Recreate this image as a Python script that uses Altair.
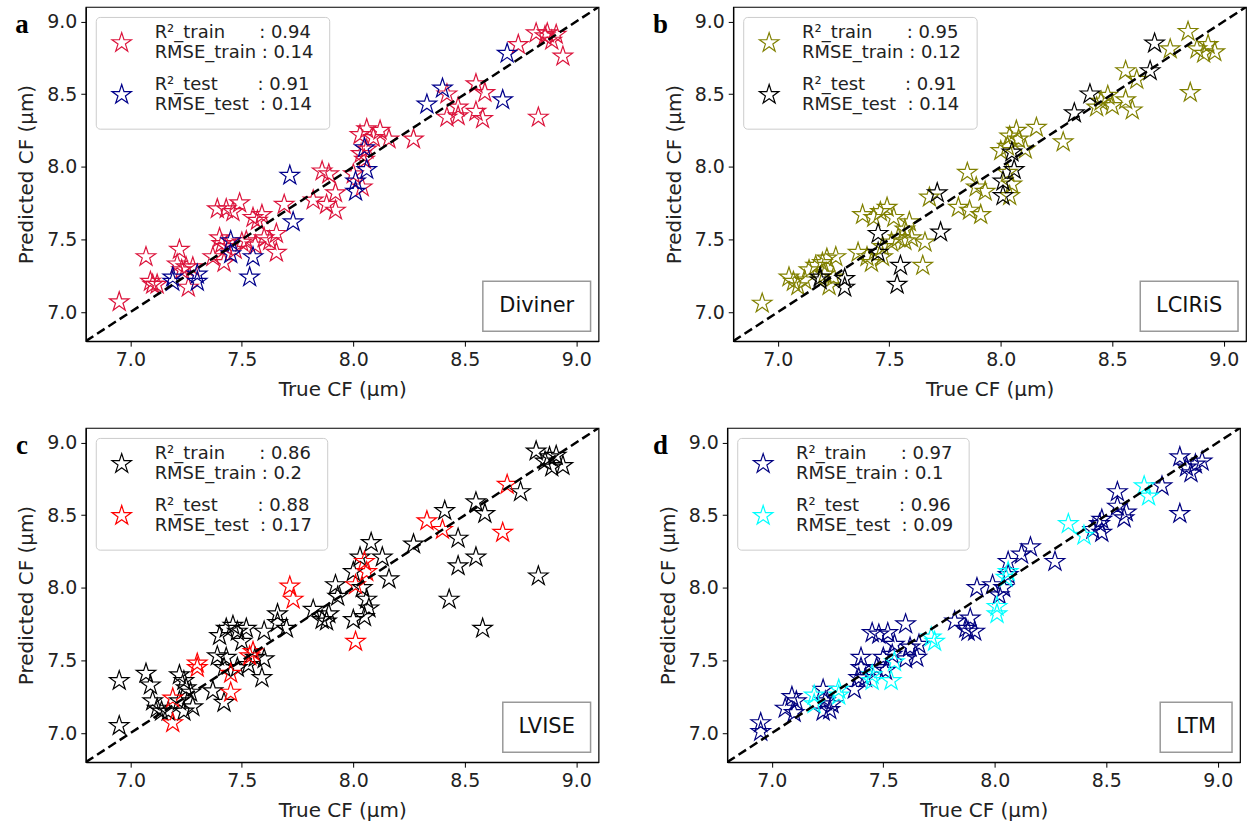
import math
import altair as alt
import pandas as pd

# ---------------- data ----------------
DOMAIN = [6.8, 9.1]
TICKS = [7.0, 7.5, 8.0, 8.5, 9.0]

# true CF of the test samples (same split in every panel)
test_true = [8.69, 8.67, 8.40, 8.33, 8.05, 8.06, 8.01, 8.01, 7.715, 7.73,
             7.45, 7.45, 7.55, 7.535, 7.30, 7.30, 7.19, 7.19]

# (a) Diviner
a_train_true = [6.95, 7.07, 7.09, 7.12, 7.22, 7.21, 7.23, 7.26, 7.25, 7.28,
                7.39, 7.43, 7.49, 7.46, 7.55, 7.59, 7.57, 7.40, 7.37, 7.42,
                7.43, 7.52, 7.56, 7.60, 7.655, 7.655, 7.625, 7.69, 7.82, 7.86,
                7.89, 7.92, 7.88, 7.92, 8.00, 8.03, 8.06, 8.09, 8.12, 8.16,
                8.035, 8.04, 8.27, 8.42, 8.42, 8.47, 8.47, 8.55, 8.59, 8.55,
                8.58, 8.83, 8.74, 8.82, 8.86, 8.89, 8.91, 8.94, 8.87,
                7.10, 7.47, 7.50, 8.06, 8.05, 7.41]
a_train_pred = [7.07, 7.38, 7.21, 7.19, 7.43, 7.33, 7.29, 7.17, 7.31, 7.31,
                7.71, 7.71, 7.75, 7.69, 7.65, 7.67, 7.63, 7.51, 7.38, 7.34,
                7.45, 7.49, 7.46, 7.51, 7.54, 7.41, 7.49, 7.74, 7.77, 7.97,
                7.95, 7.82, 7.74, 7.70, 7.95, 8.22, 8.26, 8.20, 8.25, 8.19,
                8.09, 7.86, 8.19, 8.50, 8.34, 8.41, 8.35, 8.57, 8.51, 8.38,
                8.33, 8.34, 8.84, 8.92, 8.90, 8.87, 8.91, 8.76, 8.92,
                7.19, 7.43, 7.48, 8.12, 8.05, 7.47]
a_test_pred = [8.78, 8.46, 8.54, 8.43, 8.13, 7.98, 7.90, 7.83, 7.94, 7.62,
               7.49, 7.40, 7.38, 7.24, 7.26, 7.21, 7.24, 7.21]

# (b) LCIRiS
b_train_true = [6.93, 7.05, 7.07, 7.09, 7.12, 7.14, 7.17, 7.20, 7.22, 7.26,
                7.21, 7.25, 7.23, 7.38, 7.43, 7.46, 7.49, 7.52, 7.36, 7.40,
                7.42, 7.47, 7.47, 7.51, 7.54, 7.57, 7.59, 7.57, 7.60, 7.66,
                7.65, 7.68, 7.81, 7.86, 7.91, 7.89, 7.85, 7.93, 8.00, 8.03,
                8.07, 8.08, 8.11, 8.04, 8.16, 8.28, 8.03, 8.05, 8.04, 8.43,
                8.45, 8.48, 8.50, 8.56, 8.59, 8.56, 8.61, 8.76, 8.84, 8.88,
                8.91, 8.96, 8.93, 8.85]
b_train_pred = [7.06, 7.24, 7.21, 7.18, 7.22, 7.29, 7.32, 7.34, 7.37, 7.38,
                7.26, 7.24, 7.18, 7.67, 7.65, 7.69, 7.72, 7.65, 7.41, 7.38,
                7.34, 7.38, 7.45, 7.48, 7.51, 7.57, 7.62, 7.49, 7.51, 7.48,
                7.32, 7.79, 7.72, 7.70, 7.67, 7.86, 7.96, 7.83, 8.11, 8.14,
                8.25, 8.19, 8.12, 8.21, 8.27, 8.17, 7.96, 7.88, 7.80, 8.41,
                8.45, 8.49, 8.42, 8.46, 8.39, 8.66, 8.60, 8.81, 8.93, 8.81,
                8.78, 8.79, 8.84, 8.51]
b_test_pred = [8.85, 8.66, 8.50, 8.37, 8.10, 7.98, 7.90, 7.80, 7.82, 7.55,
               7.54, 7.41, 7.32, 7.19, 7.23, 7.17, 7.24, 7.22]

# (c) LVISE
c_train_true = [6.95, 6.95, 7.07, 7.09, 7.10, 7.12, 7.14, 7.22, 7.24, 7.25,
                7.27, 7.22, 7.24, 7.28, 7.17, 7.37, 7.42, 7.40, 7.43, 7.46,
                7.48, 7.52, 7.50, 7.39, 7.43, 7.42, 7.48, 7.53, 7.56, 7.60,
                7.59, 7.60, 7.66, 7.66, 7.70, 7.82, 7.86, 7.88, 7.89, 7.92,
                7.93, 8.00, 8.05, 8.07, 8.06, 8.04, 8.00, 8.03, 8.08, 8.13,
                8.16, 8.27, 8.41, 8.47, 8.47, 8.55, 8.43, 8.58, 8.55, 8.59,
                8.75, 8.82, 8.83, 8.86, 8.89, 8.91, 8.94, 8.88]
c_train_pred = [7.36, 7.05, 7.41, 7.33, 7.22, 7.17, 7.15, 7.40, 7.36, 7.31,
                7.28, 7.22, 7.15, 7.18, 7.15, 7.29, 7.21, 7.67, 7.72, 7.74,
                7.70, 7.72, 7.63, 7.53, 7.52, 7.45, 7.45, 7.47, 7.52, 7.51,
                7.38, 7.70, 7.82, 7.76, 7.72, 7.85, 7.78, 7.77, 7.82, 8.02,
                7.94, 7.78, 7.80, 7.86, 7.92, 8.00, 8.11, 8.21, 8.31, 8.21,
                8.06, 8.30, 8.53, 8.34, 8.15, 8.21, 7.92, 7.72, 8.59, 8.51,
                8.66, 8.94, 8.08, 8.87, 8.83, 8.91, 8.84, 8.90]
c_test_pred = [8.71, 8.38, 8.40, 8.46, 8.18, 8.11, 8.02, 7.63, 8.01, 7.92,
               7.41, 7.28, 7.56, 7.53, 7.48, 7.45, 7.24, 7.07]

# (d) LTM
d_train_true = [6.95, 6.95, 7.06, 7.09, 7.11, 7.10, 7.23, 7.24, 7.26, 7.27,
                7.23, 7.37, 7.39, 7.40, 7.40, 7.42, 7.45, 7.48, 7.52, 7.55,
                7.50, 7.47, 7.51, 7.60, 7.54, 7.60, 7.65, 7.62, 7.66, 7.82,
                7.87, 7.89, 7.91, 7.88, 7.92, 7.99, 8.02, 8.04, 8.06, 8.06,
                8.12, 8.16, 8.27, 8.44, 8.48, 8.47, 8.48, 8.55, 8.55, 8.59,
                8.58, 8.75, 8.83, 8.83, 8.86, 8.90, 8.93, 8.88]
d_train_pred = [7.07, 7.01, 7.17, 7.25, 7.22, 7.14, 7.30, 7.22, 7.16, 7.20,
                7.15, 7.30, 7.38, 7.52, 7.45, 7.38, 7.69, 7.68, 7.69, 7.61,
                7.52, 7.45, 7.43, 7.75, 7.54, 7.51, 7.52, 7.59, 7.61, 7.77,
                7.72, 7.79, 7.70, 7.70, 8.00, 8.02, 7.95, 8.00, 8.09, 8.18,
                8.23, 8.28, 8.18, 8.40, 8.38, 8.44, 8.47, 8.56, 8.66, 8.52,
                8.48, 8.70, 8.90, 8.51, 8.83, 8.85, 8.87, 8.79]
d_test_pred = [8.63, 8.70, 8.36, 8.44, 8.07, 8.11, 7.87, 7.82, 7.66, 7.63,
               7.40, 7.36, 7.49, 7.36, 7.30, 7.26, 7.26, 7.20]

# ---------------- styling ----------------
W, H = 514, 335
NB = "\u00a0"
FONT = "DejaVu Sans"

# five-pointed star (matplotlib-like) in the -1..1 box
pts = []
for k in range(10):
    ang = -math.pi / 2 + k * math.pi / 5
    r = 1.0 if k % 2 == 0 else 0.382
    pts.append(f"{r * math.cos(ang):.4f},{r * math.sin(ang):.4f}")
STAR = "M" + "L".join(pts) + "Z"

BOX_H = 50


def panel(letter, letter_dx, name, box_w, train_x, train_y, test_y, c_train, c_test,
          r2_tr, rmse_tr, r2_te, rmse_te):
    lab_tr = f"R²_train{NB * 6}: {r2_tr}|RMSE_train{NB}: {rmse_tr}"
    lab_te = f"R²_test{NB * 7}: {r2_te}|RMSE_test{NB * 2}: {rmse_te}"
    df = pd.concat([
        pd.DataFrame({"true": train_x, "pred": train_y, "set": lab_tr, "z": 0}),
        pd.DataFrame({"true": test_true, "pred": test_y, "set": lab_te, "z": 1}),
    ], ignore_index=True)

    sc = alt.Scale(domain=DOMAIN, nice=False, zero=False)
    x = alt.X("true:Q", scale=sc,
              axis=alt.Axis(values=TICKS, format=".1f", title="True CF (µm)"))
    y = alt.Y("pred:Q", scale=sc,
              axis=alt.Axis(values=TICKS, format=".1f", title="Predicted CF (µm)"))

    pts_layer = alt.Chart(df).mark_point(
        shape=STAR, filled=False, size=420, strokeWidth=1.2, opacity=1
    ).encode(
        x=x, y=y,
        color=alt.Color("set:N",
                        scale=alt.Scale(domain=[lab_tr, lab_te], range=[c_train, c_test]),
                        legend=alt.Legend(
                            title=None, orient="top-left", offset=10, padding=15,
                            fillColor="white", strokeColor="#cccccc", cornerRadius=4,
                            labelFont=FONT, labelFontSize=18, labelColor="#222",
                            labelLimit=500, labelOffset=22, rowPadding=14,
                            labelBaseline="line-bottom",
                            symbolType=STAR, symbolSize=420, symbolStrokeWidth=1.2,
                            labelExpr="split(datum.label, '|')")),
        order=alt.Order("z:Q"),
    )

    diag = alt.Chart(pd.DataFrame({"true": DOMAIN, "pred": DOMAIN})).mark_line(
        color="black", strokeDash=[9, 4.5], strokeWidth=2.5, clip=True
    ).encode(x=x, y=y)

    lab_df = pd.DataFrame({"name": [name], "letter": [letter]})
    box = alt.Chart(lab_df).mark_rect(
        fill="white", stroke="#999999", strokeWidth=1.5
    ).encode(
        x=alt.value(W - 8 - box_w), x2=alt.value(W - 8),
        y=alt.value(H - 10 - BOX_H), y2=alt.value(H - 10),
    )
    box_text = alt.Chart(lab_df).mark_text(
        font=FONT, fontSize=21, color="#111", align="center", baseline="middle"
    ).encode(
        text="name:N", x=alt.value(W - 8 - box_w / 2), y=alt.value(H - 10 - BOX_H / 2),
    )
    letter_text = alt.Chart(lab_df).mark_text(
        font="Liberation Serif", fontSize=27, fontWeight="bold", color="black",
        align="center", baseline="alphabetic"
    ).encode(text="letter:N", x=alt.value(letter_dx), y=alt.value(26))

    return alt.layer(pts_layer, diag, box, box_text, letter_text).properties(
        width=W, height=H)


pa = panel("a", -64, "Diviner", 108, a_train_true, a_train_pred, a_test_pred,
           "#dc143c", "#00008b", 0.94, 0.14, 0.91, 0.14)
pb = panel("b", -73, "LCIRiS", 98, b_train_true, b_train_pred, b_test_pred,
           "#808000", "#000000", 0.95, 0.12, 0.91, 0.14)
pc = panel("c", -64, "LVISE", 88, c_train_true, c_train_pred, c_test_pred,
           "#000000", "#ff0000", 0.86, 0.2, 0.88, 0.17)
pd_ = panel("d", -67, "LTM", 72, d_train_true, d_train_pred, d_test_pred,
            "#000080", "#00ffff", 0.97, 0.1, 0.96, 0.09)

top = alt.hconcat(pa, pb, spacing=52).resolve_scale(color="independent").resolve_legend(color="independent")
bottom = alt.hconcat(pc, pd_, spacing=52).resolve_scale(color="independent").resolve_legend(color="independent")

chart = alt.vconcat(top, bottom, spacing=27).resolve_scale(
    color="independent"
).resolve_legend(color="independent").properties(
    padding={"left": 14, "top": 5, "right": 0, "bottom": 0},
    background="white",
).configure_view(
    stroke="black", strokeWidth=1.2
).configure_axis(
    labelFont=FONT, labelFontSize=19, labelColor="#222",
    titleFont=FONT, titleFontSize=20, titleFontWeight="normal", titleColor="#222",
    tickColor="black", tickSize=5, tickWidth=1, domainColor="black", domainWidth=1.2,
    grid=False, labelPadding=4, titlePadding=10,
)

chart.save("out.html", embed_options={"renderer": "svg", "actions": False})
